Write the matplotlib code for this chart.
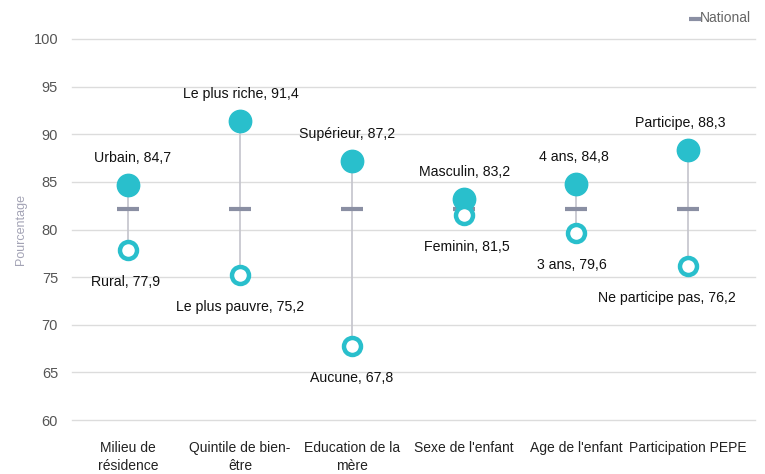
import matplotlib.pyplot as plt

plt.rcParams['font.family'] = ['Liberation Sans', 'DejaVu Sans']

# data
categories = ["Milieu de\nrésidence", "Quintile de bien-\nêtre", "Education de la\nmère",
              "Sexe de l'enfant", "Age de l'enfant", "Participation PEPE"]
high_names = ["Urbain", "Le plus riche", "Supérieur", "Masculin", "4 ans", "Participe"]
high_values = [84.7, 91.4, 87.2, 83.2, 84.8, 88.3]
low_names = ["Rural", "Le plus pauvre", "Aucune", "Feminin", "3 ans", "Ne participe pas"]
low_values = [77.9, 75.2, 67.8, 81.5, 79.6, 76.2]
national = [82.2] * 6

teal = "#29bfcc"
x = list(range(len(categories)))

fig = plt.figure(figsize=(7.65, 4.74), dpi=100)
ax = fig.add_axes([72 / 765, 54 / 474, (755 - 72) / 765, (420 - 39) / 474])

# vertical connectors
ax.vlines(x, low_values, high_values, color="#c4c4cc", linewidth=1.2, zorder=1)
# national marks
ax.scatter(x, national, marker="_", s=260, linewidths=3, color="#8a8fa3", zorder=2, label="National")
# high & low points
ax.scatter(x, high_values, s=260, color=teal, zorder=3)
ax.scatter(x, low_values, s=150, facecolor="white", edgecolor=teal, linewidths=3.2, zorder=3)

fmt = lambda v: f"{v:.1f}".replace(".", ",")
high_dx = [5, 1, -5, 1, -2, -8]
low_dx = [-2, 0, 0, 3, -4, -21]
for i in x:
    ax.annotate(f"{high_names[i]}, {fmt(high_values[i])}", (i, high_values[i]),
                xytext=(high_dx[i], 27), textcoords="offset pixels",
                ha="center", va="center", fontsize=10.2, color="#111111")
    ax.annotate(f"{low_names[i]}, {fmt(low_values[i])}", (i, low_values[i]),
                xytext=(low_dx[i], -32), textcoords="offset pixels",
                ha="center", va="center", fontsize=10.2, color="#111111")

ax.set_xlim(-0.5, 5.6)
ax.set_ylim(60, 100)
ax.set_yticks(range(60, 101, 5))
ax.set_xticks(x)
ax.set_xticklabels(categories, fontsize=10, color="#222222", linespacing=1.35)
ax.tick_params(axis="y", labelsize=10.5, colors="#555555", length=0, pad=10)
ax.tick_params(axis="x", length=0, pad=15)
ax.grid(axis="y", color="#dcdcdc", linewidth=1)
ax.set_axisbelow(True)
for s in ax.spines.values():
    s.set_visible(False)
for gl in ax.get_ygridlines():
    gl.set_clip_on(False)

ax.set_ylabel("Pourcentage", fontsize=9, color="#a3a3b5", labelpad=5)

leg = ax.legend(loc="upper right", bbox_to_anchor=(1.012, 1.105), frameon=False,
                fontsize=10, handlelength=0.5, handletextpad=0.1, markerscale=0.5)
for t in leg.get_texts():
    t.set_color("#666666")

fig.savefig("out.png", dpi=100)
